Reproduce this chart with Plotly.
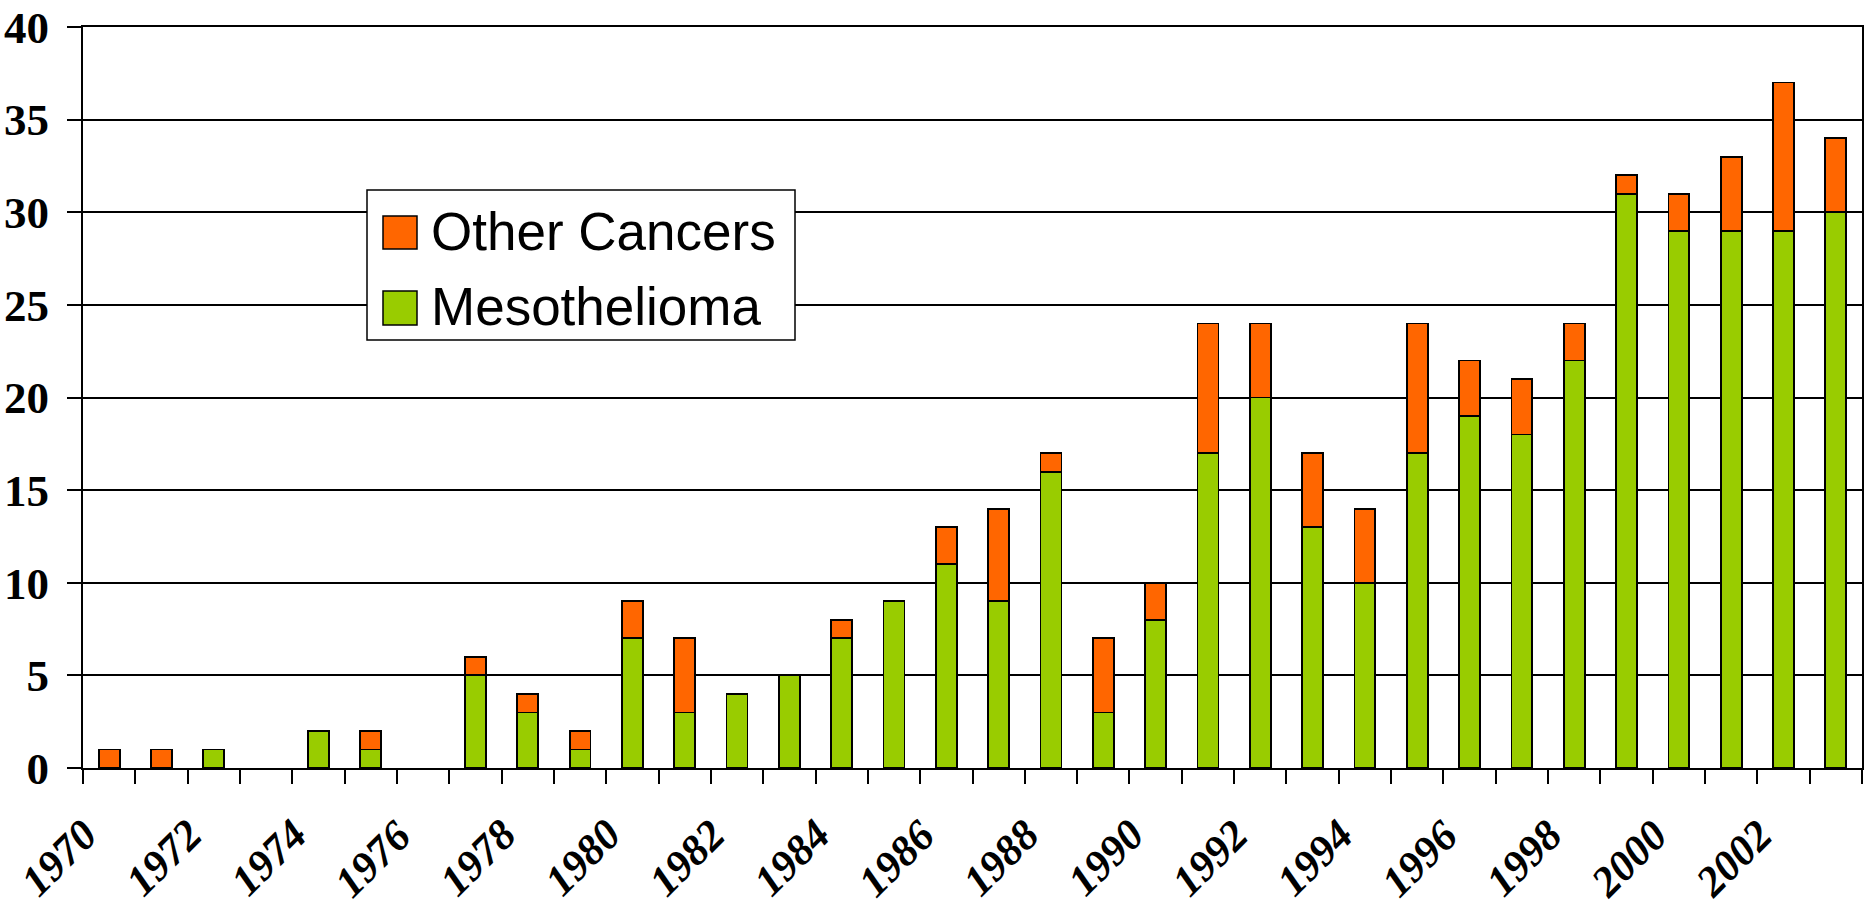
import plotly.graph_objects as go

years = list(range(1970, 2004))
mesothelioma = [0, 0, 1, 0, 2, 1, 0, 5, 3, 1, 7, 3, 4, 5, 7, 9, 11, 9, 16, 3,
                8, 17, 20, 13, 10, 17, 19, 18, 22, 31, 29, 29, 29, 30]
other_cancers = [1, 1, 0, 0, 0, 1, 0, 1, 1, 1, 2, 4, 0, 0, 1, 0, 2, 5, 1, 4,
                 2, 7, 4, 4, 4, 7, 3, 3, 2, 1, 2, 4, 8, 4]
tick_years = list(range(1970, 2003, 2))

GREEN = "#99CC00"
ORANGE = "#FF6600"

W, H = 1864, 909
ML, MR, MT, MB = 83, 2, 27, 141
PW, PH = W - ML - MR, H - MT - MB

# category boundaries (tick marks)
boundaries = [y - 0.5 for y in range(years[0], years[-1] + 2)]


def nz(vals):
    return [v if v else None for v in vals]


fig = go.Figure()
fig.add_trace(go.Bar(x=years, y=nz(mesothelioma), name="Mesothelioma", width=0.4,
                     marker=dict(color=GREEN, line=dict(color="black", width=1.8))))
fig.add_trace(go.Bar(x=years, y=nz(other_cancers), name="Other Cancers", width=0.4,
                     marker=dict(color=ORANGE, line=dict(color="black", width=1.8))))


def px_x(px):
    return (px - ML) / PW


def px_y(py):
    return (H - MB - py) / PH


shapes = [
    dict(type="rect", xref="paper", yref="paper", x0=px_x(367), x1=px_x(795),
         y0=px_y(340), y1=px_y(190), line=dict(color="black", width=1.5),
         fillcolor="white", layer="above"),
    dict(type="rect", xref="paper", yref="paper", x0=px_x(383), x1=px_x(417),
         y0=px_y(249), y1=px_y(216), line=dict(color="black", width=1.5),
         fillcolor=ORANGE, layer="above"),
    dict(type="rect", xref="paper", yref="paper", x0=px_x(383), x1=px_x(417),
         y0=px_y(325), y1=px_y(291), line=dict(color="black", width=1.5),
         fillcolor=GREEN, layer="above"),
]
annotations = [
    dict(text="Other Cancers", xref="paper", yref="paper", x=px_x(429), y=px_y(231),
         xanchor="left", yanchor="middle", showarrow=False,
         font=dict(family="Liberation Sans, Arial", size=53, color="black")),
    dict(text="Mesothelioma", xref="paper", yref="paper", x=px_x(429), y=px_y(306),
         xanchor="left", yanchor="middle", showarrow=False,
         font=dict(family="Liberation Sans, Arial", size=53, color="black")),
]
# rotated year labels under the axis
for yr in tick_years:
    annotations.append(dict(
        text=str(yr), xref="x", yref="paper", x=yr, y=px_y(808),
        xanchor="right", yanchor="top", xshift=0, textangle=-45, showarrow=False,
        font=dict(family="Liberation Serif, Times New Roman", size=43, color="black",
                  weight="bold", style="italic"),
    ))

fig.update_layout(
    barmode="stack",
    width=W, height=H,
    margin=dict(l=ML, r=MR, t=MT, b=MB, pad=0),
    plot_bgcolor="white", paper_bgcolor="white",
    showlegend=False,
    shapes=shapes,
    annotations=annotations,
    xaxis=dict(
        automargin=False,
        range=[years[0] - 0.5, years[-1] + 0.5],
        tickmode="array", tickvals=tick_years, showticklabels=False,
        ticks="",
        showgrid=False, zeroline=False,
        showline=True, linecolor="black", linewidth=2, mirror=True,
        minor=dict(tickmode="array", tickvals=boundaries, ticks="outside", ticklen=14,
                   tickwidth=1.5, tickcolor="black", showgrid=False),
    ),
    yaxis=dict(
        automargin=False,
        range=[0, 40], tickmode="linear", tick0=0, dtick=5,
        ticks="outside", ticklen=14, tickwidth=2, tickcolor="black",
        tickfont=dict(family="Liberation Serif, Times New Roman", size=45, color="black",
                      weight="bold"),
        ticklabelstandoff=9,
        showgrid=True, gridcolor="black", gridwidth=2,
        zeroline=False,
        showline=True, linecolor="black", linewidth=2, mirror=True,
    ),
)

fig.write_html("out.html", config={"displayModeBar": False},
               post_script="document.body.style.margin='0';document.body.style.overflow='hidden';")
